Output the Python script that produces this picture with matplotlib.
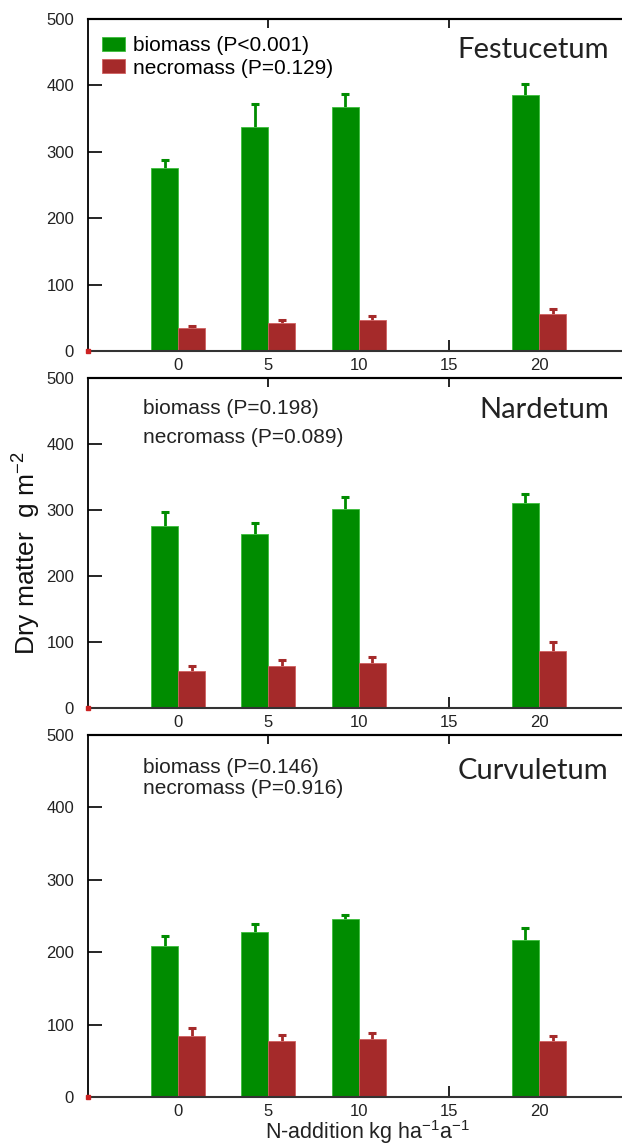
import numpy as np
import matplotlib
matplotlib.use("Agg")
import matplotlib.pyplot as plt

plt.rcParams['font.family'] = ['Liberation Sans', 'DejaVu Sans']
plt.rcParams['mathtext.default'] = 'regular'

# N-addition levels (kg ha-1 a-1)
n_levels = [0, 5, 10, 20]

# Festucetum
fest_bio = [275, 337, 368, 385]
fest_bio_err = [12, 35, 19, 17]
fest_necro = [35, 42, 47, 56]
fest_necro_err = [3, 5, 5, 7]

# Nardetum
nard_bio = [276, 264, 302, 310]
nard_bio_err = [21, 17, 17, 14]
nard_necro = [56, 63, 68, 87]
nard_necro_err = [8, 10, 9, 13]

# Curvuletum
curv_bio = [208, 228, 246, 217]
curv_bio_err = [14, 11, 6, 17]
curv_necro = [84, 77, 80, 77]
curv_necro_err = [11, 9, 8, 7]

panel_names = ['Festucetum', 'Nardetum', 'Curvuletum']
bio_labels = ['biomass (P<0.001)', 'biomass (P=0.198)', 'biomass (P=0.146)']
necro_labels = ['necromass (P=0.129)', 'necromass (P=0.089)', 'necromass (P=0.916)']

GREEN = '#008c00'
RED = '#a52a2a'

W, H = 622, 1146
fig = plt.figure(figsize=(W / 100, H / 100), dpi=100)

# panel boxes in pixels: (top, bottom)
boxes = [(19, 351), (378, 708), (735, 1097)]
left_px = 88

panels = [
    (fest_bio, fest_bio_err, fest_necro, fest_necro_err),
    (nard_bio, nard_bio_err, nard_necro, nard_necro_err),
    (curv_bio, curv_bio_err, curv_necro, curv_necro_err),
]

x = np.array(n_levels, dtype=float)
bw = 1.5


def upper_err(ax, xs, vals, errs, color):
    # only the upper half of the error bar, with a small cap
    vals = np.asarray(vals, dtype=float)
    tops = vals + np.asarray(errs, dtype=float)
    ax.vlines(xs, vals, tops, color=color, lw=2, zorder=1)
    ax.plot(xs, tops, '_', color=color, ms=6, mew=2.2, zorder=1)


for i, ((top, bot), (bio, bio_e, nec, nec_e)) in enumerate(zip(boxes, panels)):
    ax = fig.add_axes([left_px / W, 1 - bot / H, 1 - left_px / W, (bot - top) / H])

    ax.bar(x - bw / 2, bio, bw, color=GREEN, edgecolor='#3cbf3c', linewidth=0.6,
           label=bio_labels[i], zorder=2)
    ax.bar(x + bw / 2, nec, bw, color=RED, edgecolor='#d06060', linewidth=0.6,
           label=necro_labels[i], zorder=2)
    upper_err(ax, x - bw / 2, bio, bio_e, GREEN)
    upper_err(ax, x + bw / 2, nec, nec_e, RED)

    ax.set_xlim(-5, 24.6)
    ax.set_ylim(0, 500)
    ax.set_xticks([0, 5, 10, 15, 20])
    ax.set_yticks([0, 100, 200, 300, 400, 500])
    ax.tick_params(axis='x', direction='in', length=8, width=1.2, pad=5,
                   labelsize=12)
    ax.tick_params(axis='y', direction='in', length=10, width=1.2, pad=10,
                   labelsize=12)
    for lab in ax.get_xticklabels() + ax.get_yticklabels():
        lab.set_color('#222222')

    sec = ax.secondary_xaxis('top')
    sec.set_xticks([5, 15])
    sec.tick_params(direction='in', length=6.5, width=1.2, labeltop=False)
    sec.spines['top'].set_linewidth(1.5)

    ax.spines['right'].set_visible(False)
    ax.spines['top'].set_linewidth(1.5)
    ax.spines['left'].set_linewidth(1.3)
    ax.spines['bottom'].set_linewidth(1.5)
    ax.spines['bottom'].set_color('#333333')

    # small red marker at the origin corner
    ax.plot([-5], [0], 's', color='#cc2222', ms=2.5, clip_on=False, zorder=5)

    name_y = [0.8825, 0.879, 0.878][i]
    ax.text(0.975, name_y, panel_names[i], transform=ax.transAxes,
            ha='right', va='baseline', fontsize=21, family=['Lato', 'DejaVu Sans'],
            color='#222222')

    if i == 0:
        ax.legend(loc='upper left', bbox_to_anchor=(0.003, 0.985), frameon=False,
                  fontsize=15, handlelength=1.1, handleheight=0.65,
                  handletextpad=0.4, labelspacing=0.15, borderaxespad=0.2)
    else:
        ys = [(0.909, 0.821), (0.909, 0.851)][i - 1]
        ax.text(0.103, ys[0], bio_labels[i], transform=ax.transAxes,
                ha='left', va='center', fontsize=15, color='#222222')
        ax.text(0.103, ys[1], necro_labels[i], transform=ax.transAxes,
                ha='left', va='center', fontsize=15, color='#222222')

fig.text(27 / W, 1 - 553 / H, 'Dry matter  g m$^{-2}$', rotation=90,
         ha='center', va='center', fontsize=19, color='#111111')
fig.text(368 / W, 1 - 1139 / H, 'N-addition kg ha$^{-1}$a$^{-1}$',
         ha='center', va='baseline', fontsize=15.5, color='#222222')

fig.savefig('out.png', dpi=100)
